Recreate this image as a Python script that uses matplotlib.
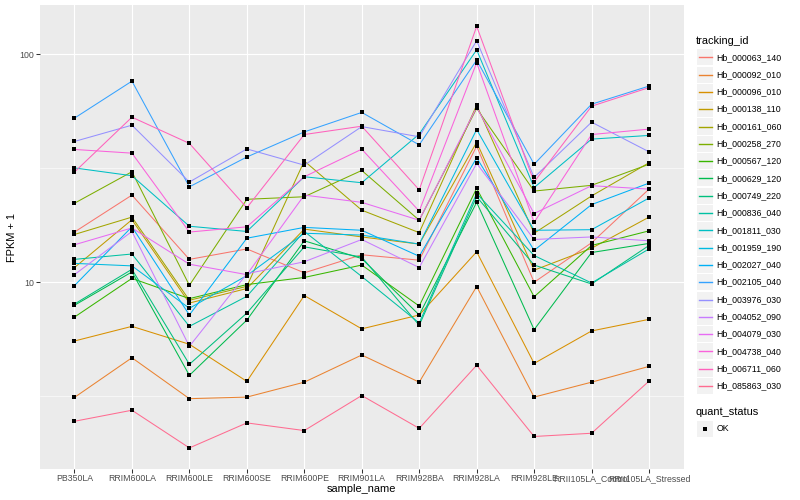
import matplotlib
matplotlib.use("Agg")
import matplotlib.pyplot as plt
from matplotlib.patches import Rectangle
from matplotlib.lines import Line2D
from matplotlib.ticker import FixedLocator, FixedFormatter, NullFormatter

plt.rcParams["font.family"] = ["Liberation Sans", "DejaVu Sans"]

SAMPLES = ["PB350LA", "RRIM600LA", "RRIM600LE", "RRIM600SE", "RRIM600PE",
           "RRIM901LA", "RRIM928BA", "RRIM928LA", "RRIM928LE",
           "RRII105LA_Control", "RRII105LA_Stressed"]

TRACKING_IDS = ["Hb_000063_140", "Hb_000092_010", "Hb_000096_010", "Hb_000138_110",
                "Hb_000161_060", "Hb_000258_270", "Hb_000567_120", "Hb_000629_120",
                "Hb_000749_220", "Hb_000836_040", "Hb_001811_030", "Hb_001959_190",
                "Hb_002027_040", "Hb_002105_040", "Hb_003976_030", "Hb_004052_090",
                "Hb_004079_030", "Hb_004738_040", "Hb_006711_060", "Hb_085863_030"]

# FPKM + 1, one list per gene, in SAMPLES order
hb_000063_140 = [16.6, 24.1, 12.6, 14.0, 11.0, 13.2, 12.5, 39.5, 10.0, 14.9, 25.6]
hb_000092_010 = [3.13, 4.67, 3.09, 3.14, 3.65, 4.80, 3.65, 9.58, 3.14, 3.65, 4.28]
hb_000096_010 = [5.53, 6.41, 5.35, 3.68, 8.75, 6.25, 7.19, 13.6, 4.41, 6.12, 6.88]
hb_000138_110 = [11.6, 18.8, 8.11, 9.39, 17.1, 15.8, 14.7, 41.1, 11.3, 14.1, 19.3]
hb_000161_060 = [16.2, 19.3, 8.34, 9.60, 34.0, 20.7, 16.5, 59.7, 16.4, 23.9, 33.4]
hb_000258_270 = [22.2, 30.5, 9.70, 23.1, 23.7, 30.9, 18.7, 57.8, 25.1, 26.6, 32.9]
hb_000567_120 = [7.04, 10.4, 8.48, 9.77, 10.5, 11.9, 7.87, 25.8, 8.64, 14.5, 16.8]
hb_000629_120 = [7.93, 11.1, 3.91, 6.83, 15.2, 12.7, 7.19, 22.4, 6.20, 13.5, 14.8]
hb_000749_220 = [8.03, 11.4, 4.37, 7.33, 14.3, 12.9, 6.48, 23.7, 11.9, 9.83, 14.5]
hb_000836_040 = [12.6, 13.3, 6.41, 8.68, 16.7, 10.6, 6.63, 24.5, 13.1, 9.93, 14.0]
hb_001811_030 = [31.7, 29.3, 17.6, 16.7, 29.0, 27.3, 44.6, 104.4, 26.0, 42.4, 44.0]
hb_001959_190 = [12.1, 11.8, 7.69, 10.7, 16.4, 16.1, 14.7, 46.7, 16.9, 17.0, 23.4]
hb_002027_040 = [9.67, 17.5, 7.19, 15.6, 17.4, 16.9, 13.0, 35.1, 13.8, 21.9, 27.2]
hb_002105_040 = [52.4, 76.1, 26.2, 35.4, 45.6, 55.5, 40.0, 94.1, 32.9, 60.3, 72.4]
hb_003976_030 = [41.4, 48.8, 27.5, 38.4, 32.6, 48.1, 43.4, 114.4, 28.8, 50.3, 37.3]
hb_004052_090 = [10.8, 16.7, 5.24, 10.9, 12.3, 15.4, 11.6, 33.2, 15.4, 15.8, 15.2]
hb_004079_030 = [14.6, 17.3, 12.0, 10.8, 24.1, 22.4, 18.7, 58.5, 20.0, 26.5, 25.6]
hb_004738_040 = [38.2, 36.8, 16.6, 17.5, 29.0, 38.3, 20.5, 91.6, 18.3, 44.4, 46.9]
hb_006711_060 = [30.4, 52.9, 40.6, 21.2, 44.4, 48.3, 25.4, 132.3, 27.5, 59.1, 71.3]
hb_085863_030 = [2.46, 2.75, 1.88, 2.42, 2.24, 3.19, 2.29, 4.33, 2.11, 2.18, 3.69]

SERIES = [hb_000063_140, hb_000092_010, hb_000096_010, hb_000138_110, hb_000161_060,
          hb_000258_270, hb_000567_120, hb_000629_120, hb_000749_220, hb_000836_040,
          hb_001811_030, hb_001959_190, hb_002027_040, hb_002105_040, hb_003976_030,
          hb_004052_090, hb_004079_030, hb_004738_040, hb_006711_060, hb_085863_030]

# ggplot2 default hue palette for 20 groups
COLORS = ["#F8766D", "#EA8331", "#D89000", "#C09B00", "#A3A500", "#7CAE00", "#39B600",
          "#00BB4E", "#00BF7D", "#00C1A3", "#00BFC4", "#00BAE0", "#00B0F6", "#35A2FF",
          "#9590FF", "#C77CFF", "#E76BF3", "#FA62DB", "#FF62BC", "#FF6C91"]

W, H = 800, 500
fig = plt.figure(figsize=(W / 100, H / 100), dpi=100)


def fx(x):
    return x / W


def fy(y):
    return 1 - y / H


ax = fig.add_axes([fx(40), fy(468.5), (683.5 - 40) / W, (468.5 - 5) / H])
ax.set_facecolor("#EBEBEB")
for s in ax.spines.values():
    s.set_visible(False)

xs = list(range(len(SAMPLES)))
for vals, col in zip(SERIES, COLORS):
    ax.plot(xs, vals, color=col, lw=0.75, zorder=2)
for vals in SERIES:
    ax.plot(xs, vals, ls="none", marker="s", ms=2.5, mew=0, color="black", zorder=3)

ax.set_yscale("log")
ax.set_ylim(10 ** 0.184, 10 ** 2.215)
ax.set_xlim(-0.6, len(SAMPLES) - 0.4)
ax.set_xticks(xs)
ax.set_xticklabels(SAMPLES)
ax.yaxis.set_major_locator(FixedLocator([10, 100]))
ax.yaxis.set_major_formatter(FixedFormatter(["10", "100"]))
ax.yaxis.set_minor_locator(FixedLocator([10 ** 0.5, 10 ** 1.5]))
ax.yaxis.set_minor_formatter(NullFormatter())
ax.grid(which="major", color="white", lw=0.8)
ax.grid(which="minor", axis="y", color="white", lw=0.4)
ax.set_axisbelow(True)
ax.tick_params(which="major", length=2.7, width=0.75, color="#333333",
               labelsize=6.3, labelcolor="#4D4D4D", pad=1.6)
ax.tick_params(which="minor", length=0)

fig.text(fx(361.5), fy(489), "sample_name", fontsize=7.9, ha="center", va="center")
fig.text(fx(12), fy(237), "FPKM + 1", fontsize=7.9, ha="center", va="center", rotation=90)

# legend, drawn by hand in ggplot style
fig.text(fx(696), fy(40.7), "tracking_id", fontsize=7.9, va="center")
for i, (tid, col) in enumerate(zip(TRACKING_IDS, COLORS)):
    yc = 57.3 + i * 17.3
    fig.add_artist(Rectangle((fx(697), fy(yc + 8)), 16 / W, 16 / H, zorder=1,
                             transform=fig.transFigure, facecolor="#F2F2F2", edgecolor="none"))
    fig.add_artist(Line2D([fx(698.5), fx(711.5)], [fy(yc), fy(yc)], color=col, lw=1.0,
                          zorder=5, transform=fig.transFigure))
    fig.text(fx(716.5), fy(yc), tid, fontsize=6.3, va="center")

fig.text(fx(696), fy(412), "quant_status", fontsize=7.9, va="center")
yc = 428.7
fig.add_artist(Rectangle((fx(697), fy(yc + 8)), 16 / W, 16 / H, zorder=1,
                         transform=fig.transFigure, facecolor="#F2F2F2", edgecolor="none"))
fig.add_artist(Line2D([fx(705)], [fy(yc)], ls="none", marker="s", ms=2.5, mew=0,
                      color="black", zorder=5, transform=fig.transFigure))
fig.text(fx(716.5), fy(yc), "OK", fontsize=6.3, va="center")

fig.savefig("out.png", dpi=100)
